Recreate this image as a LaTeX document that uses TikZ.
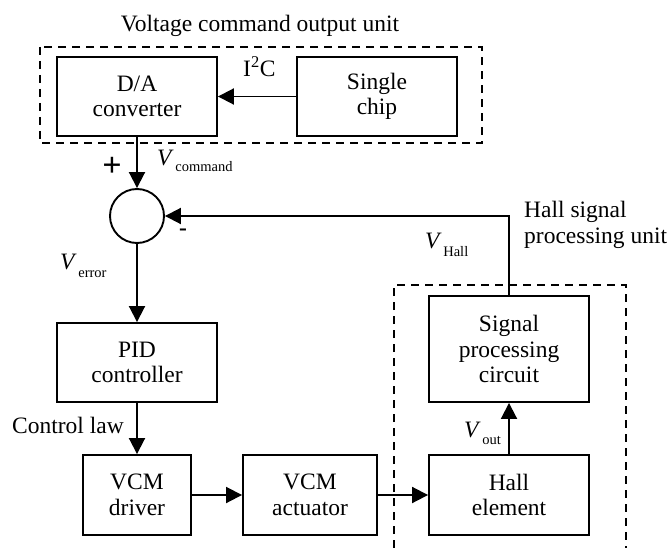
\documentclass[tikz,border=0pt]{standalone}
\usepackage{fontspec}
\setmainfont{Liberation Serif}
\usetikzlibrary{arrows.meta}
\newcommand{\Vsub}[2][7pt]{\textit{V}\hspace{1.5pt}\raisebox{-#1}{\fontsize{14.5}{14.5}\selectfont #2}}
\begin{document}
\begin{tikzpicture}[x=1pt,y=-1pt,
  blk/.style={draw, line width=1.9pt, inner sep=0pt, align=center, font=\fontsize{23.5}{25.5}\selectfont},
  conn/.style={line width=1.9pt, -{Triangle[length=16pt,width=16pt]}},
  unitbox/.style={line width=1.5pt, dash pattern=on 8pt off 6pt},
  lbl/.style={inner sep=0pt, font=\fontsize{23.5}{25.5}\selectfont},
]
\useasboundingbox (0,0) rectangle (671,548);

% dashed unit frames
\draw[unitbox] (40,47) rectangle (482,143);
\draw[unitbox] (394,548) -- (394,285) -- (626,285) -- (626,548);

% blocks
\node[blk, minimum width=160pt, minimum height=79pt] (da) at (137,96.5) {D/A\\converter};
\node[blk, minimum width=160pt, minimum height=79pt] (chip) at (377,96.5) {Single\\chip};
\node[draw, circle, line width=1.9pt, minimum size=54pt, inner sep=0pt] (sum) at (137,216) {};
\node[blk, minimum width=160pt, minimum height=79pt] (pid) at (137,362.5) {PID\\controller};
\node[blk, minimum width=160pt, minimum height=106pt] (sig) at (509,349) {Signal\\processing\\circuit};
\node[blk, minimum width=108pt, minimum height=80pt] (drv) at (137,495) {VCM\\driver};
\node[blk, minimum width=134pt, minimum height=80pt] (act) at (310,495) {VCM\\actuator};
\node[blk, minimum width=160pt, minimum height=80pt] (hall) at (509,495) {Hall\\element};

% connectors
\draw[conn] (chip.west) -- (da.east);
\draw[conn] (da.south) -- (sum.north);
\draw[conn] (sig.north) |- (sum.east);
\draw[conn] (sum.south) -- (pid.north);
\draw[conn] (pid.south) -- (drv.north);
\draw[conn] (drv.east) -- (act.west);
\draw[conn] (act.east) -- (hall.west);
\draw[conn] (hall.north) -- (sig.south);

% labels
\node[lbl, anchor=base] (title) at (260,32) {Voltage command output unit};
\node[lbl, anchor=base west] (i2c) at (243,77) {I\textsuperscript{2}C};
\node[lbl, anchor=base west] (vcmd) at (157,165) {\Vsub[6pt]{command}};
\node[inner sep=0pt, font=\fontsize{34}{34}\selectfont\bfseries] (plus) at (112,167) {+};
\node[lbl, font=\fontsize{23.5}{25.5}\selectfont\bfseries] (minus) at (183,232) {-};
\node[lbl, anchor=base west] (verr) at (60,269) {\Vsub[8pt]{error}};
\node[lbl, anchor=base west] (vhall) at (425,248) {\Vsub[8pt]{Hall}};
\node[lbl, anchor=base west, align=left] (hsp) at (524,243) {Hall signal\\processing unit};
\node[lbl, anchor=base west] (claw) at (12,433) {Control law};
\node[lbl, anchor=base west] (vout) at (464,437) {\Vsub[7pt]{out}};
\end{tikzpicture}
\end{document}
